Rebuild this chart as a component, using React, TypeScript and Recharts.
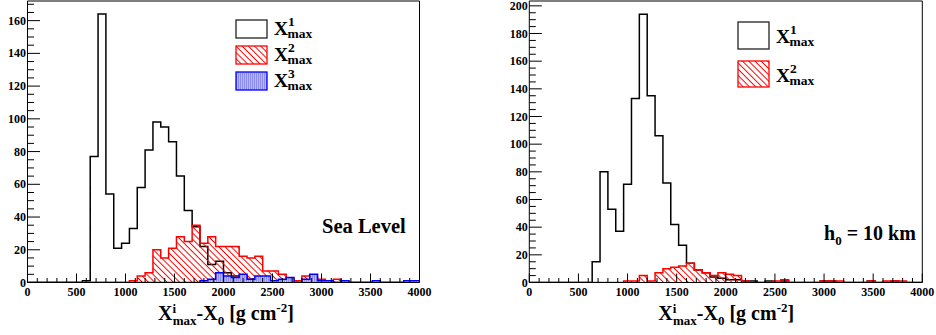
import React from "react";
import { ComposedChart, Area, XAxis, YAxis, ReferenceArea } from "recharts";

// 50 bins of 80 g/cm2 between 0 and 4000
const binEdges = Array.from({ length: 51 }, (_, i) => i * 80);

// Sea level panel
const seaFirst = [
  0, 0, 0, 0, 0, 0, 0, 1, 77, 164, 54, 21, 24, 33, 58, 81, 98, 95, 86, 65,
  44, 34, 22, 11, 13, 6, 4, 4, 2, 2, 1, 1, 0, 1, 0, 1, 0, 0, 1, 0,
  0, 0, 0, 0, 0, 0, 0, 0, 0, 0,
];
const seaSecond = [
  0, 0, 0, 0, 0, 0, 0, 0, 0, 0, 0, 0, 0, 1, 4, 6, 20, 15, 21, 28,
  25, 35, 24, 28, 22, 22, 22, 16, 15, 16, 7, 7, 5, 2, 1, 4, 3, 2, 1, 2,
  1, 0, 0, 0, 1, 0, 0, 0, 1, 1,
];
const seaThird = [
  0, 0, 0, 0, 0, 0, 0, 0, 0, 0, 0, 0, 0, 0, 0, 0, 0, 0, 0, 0,
  0, 0, 1, 2, 6, 4, 3, 5, 2, 4, 4, 1, 2, 3, 0, 2, 5, 1, 1, 0,
  1, 0, 0, 0, 1, 0, 0, 0, 1, 1,
];

// h0 = 10 km panel
const highFirst = [
  0, 0, 0, 0, 0, 0, 0, 0, 15, 80, 53, 37, 71, 133, 194, 135, 106, 72, 42, 27,
  14, 9, 7, 4, 3, 2, 2, 1, 1, 0, 1, 0, 1, 0, 0, 0, 0, 1, 1, 0,
  0, 0, 0, 1, 0, 0, 1, 0, 0, 0,
];
const highSecond = [
  0, 0, 0, 0, 0, 0, 0, 0, 0, 0, 0, 0, 1, 1, 5, 1, 7, 10, 11, 12,
  14, 9, 7, 5, 7, 6, 5, 1, 0, 0, 0, 1, 2, 0, 0, 0, 0, 1, 1, 1,
  0, 0, 0, 1, 0, 1, 1, 1, 0, 0,
];

const xTicks = Array.from({ length: 41 }, (_, i) => i * 100);
const seaYTicks = Array.from({ length: 35 }, (_, i) => i * 5);
const highYTicks = Array.from({ length: 41 }, (_, i) => i * 5);

const steps = (series: Record<string, number[]>) =>
  binEdges.map((x, i) => {
    const row: Record<string, number> = { x };
    Object.keys(series).forEach((k) => {
      row[k] = series[k][Math.min(i, series[k].length - 1)];
    });
    return row;
  });

const seaData = steps({ h1: seaFirst, h2: seaSecond, h3: seaThird });
const highData = steps({ h1: highFirst, h2: highSecond });

const font = "'Liberation Serif', 'Times New Roman', serif";
const labelStyle = { fontFamily: font, fontWeight: 700, fontSize: 12 };

const XTick = (props: any) => {
  const { x, y, payload } = props;
  const major = payload.value % 500 === 0;
  return (
    <g>
      <line x1={x} x2={x} y1={y} y2={y - (major ? 9 : 4.5)} stroke="#000" strokeWidth={1} />
      {major && (
        <text x={x} y={y + 13} textAnchor="middle" style={labelStyle} fill="#000">
          {payload.value}
        </text>
      )}
    </g>
  );
};

const YTick = (props: any) => {
  const { x, y, payload } = props;
  const major = payload.value % 20 === 0;
  return (
    <g>
      <line x1={x} x2={x + (major ? 12.5 : 6.5)} y1={y} y2={y} stroke="#000" strokeWidth={1} />
      {major && (
        <text x={x - 1.5} y={y + 4} textAnchor="end" style={labelStyle} fill="#000">
          {payload.value}
        </text>
      )}
    </g>
  );
};

const Histo = ({ data, yMax, yTicks, yWidth, width, right, series }: any) => (
  <ComposedChart width={width} height={335} data={data} margin={{ top: 1, right, bottom: 0, left: 0 }}>
    <XAxis
      type="number"
      dataKey="x"
      domain={[0, 4000]}
      ticks={xTicks}
      interval={0}
      tickSize={0}
      tickMargin={0}
      axisLine={false}
      tickLine={false}
      height={52.5}
      tick={(p: any) => <XTick {...p} />}
      allowDataOverflow
    />
    <YAxis
      type="number"
      domain={[0, yMax]}
      ticks={yTicks}
      interval={0}
      tickSize={0}
      tickMargin={0}
      axisLine={false}
      tickLine={false}
      width={yWidth}
      tick={(p: any) => <YTick {...p} />}
      allowDataOverflow
    />
    {series.map((s: any) => (
      <Area
        key={s.key}
        type="stepAfter"
        dataKey={s.key}
        stroke={s.stroke}
        strokeWidth={1.5}
        fill={s.fill}
        fillOpacity={1}
        dot={false}
        activeDot={false}
        isAnimationActive={false}
      />
    ))}
    <ReferenceArea x1={0} x2={4000} y1={0} y2={yMax} fill="none" fillOpacity={0} stroke="#000" strokeWidth={1} ifOverflow="visible" />
  </ComposedChart>
);

const AxisTitle = ({ x }: { x: number }) => (
  <text x={x} y={320} fill="#000" style={{ whiteSpace: "pre", fontFamily: font, fontWeight: 700, fontSize: 20 }}>
    X
    <tspan fontSize={13} dy={-7}>i</tspan>
    <tspan x={x + 14.7} fontSize={13} dy={12}>max</tspan>
    <tspan fontSize={20} dy={-5}>-X</tspan>
    <tspan fontSize={13} dy={5}>0</tspan>
    <tspan fontSize={20} dy={-5}>{" [g cm"}</tspan>
    <tspan fontSize={13} dy={-8}>-2</tspan>
    <tspan fontSize={20} dy={8}>]</tspan>
  </text>
);

const LegendLabel = ({ x, y, n }: { x: number; y: number; n: string }) => (
  <text x={x} y={y} fill="#000" style={{ fontFamily: font, fontWeight: 700, fontSize: 19.5 }}>
    X
    <tspan fontSize={13.5} dy={-9}>{n}</tspan>
    <tspan x={x + 13.5} fontSize={13.5} dy={12}>max</tspan>
  </text>
);

export default function App() {
  return (
    <div style={{ position: "absolute", left: 0, top: 0, width: 936, height: 335, background: "#fff" }}>
      <div style={{ position: "absolute", left: 0, top: 0 }}>
        <Histo
          data={seaData}
          yMax={172}
          yTicks={seaYTicks}
          yWidth={27.5}
          width={440}
          right={20.5}
          series={[
            { key: "h1", stroke: "#000", fill: "none" },
            { key: "h2", stroke: "#ff0000", fill: "url(#hatchRed)" },
            { key: "h3", stroke: "#0000ff", fill: "url(#hatchBlue)" },
          ]}
        />
      </div>
      <div style={{ position: "absolute", left: 490, top: 0 }}>
        <Histo
          data={highData}
          yMax={203.5}
          yTicks={highYTicks}
          yWidth={39.3}
          width={446}
          right={13.7}
          series={[
            { key: "h1", stroke: "#000", fill: "none" },
            { key: "h2", stroke: "#ff0000", fill: "url(#hatchRed)" },
          ]}
        />
      </div>
      <svg width={936} height={335} style={{ position: "absolute", left: 0, top: 0, pointerEvents: "none" }}>
        <defs>
          <pattern id="hatchRed" patternUnits="userSpaceOnUse" width={4.4} height={4} patternTransform="rotate(-45)">
            <line x1={2.2} y1={0} x2={2.2} y2={4} stroke="#ff0000" strokeWidth={1} />
          </pattern>
          <pattern id="hatchBlue" patternUnits="userSpaceOnUse" width={2} height={4}>
            <rect width={2} height={4} fill="#b8b8f7" />
            <line x1={0.5} y1={0} x2={0.5} y2={4} stroke="#7070ea" strokeWidth={0.6} />
          </pattern>
        </defs>

        {/* left legend */}
        <rect x={236} y={20} width={31} height={18} fill="#fff" stroke="#222" strokeWidth={1.3} />
        <rect x={236} y={46} width={31} height={18} fill="url(#hatchRed)" stroke="#ff0000" strokeWidth={1.3} />
        <rect x={236} y={72} width={31} height={18} fill="url(#hatchBlue)" stroke="#0000ff" strokeWidth={1.3} />
        <LegendLabel x={274} y={35} n="1" />
        <LegendLabel x={274} y={61} n="2" />
        <LegendLabel x={274} y={87} n="3" />

        {/* right legend */}
        <rect x={738} y={22} width={31} height={27} fill="#fff" stroke="#222" strokeWidth={1.3} />
        <rect x={738} y={61} width={31} height={26} fill="url(#hatchRed)" stroke="#ff0000" strokeWidth={1.3} />
        <LegendLabel x={776} y={42.7} n="1" />
        <LegendLabel x={776} y={81.7} n="2" />

        <text x={322} y={233} fill="#000" style={{ fontFamily: font, fontWeight: 700, fontSize: 20.5 }}>
          Sea Level
        </text>
        <text x={824} y={240} fill="#000" style={{ whiteSpace: "pre", fontFamily: font, fontWeight: 700, fontSize: 20 }}>
          h
          <tspan fontSize={13} dy={5}>0</tspan>
          <tspan fontSize={20} dy={-5}>{" = 10 km"}</tspan>
        </text>

        <AxisTitle x={158} />
        <AxisTitle x={658.3} />
      </svg>
    </div>
  );
}
